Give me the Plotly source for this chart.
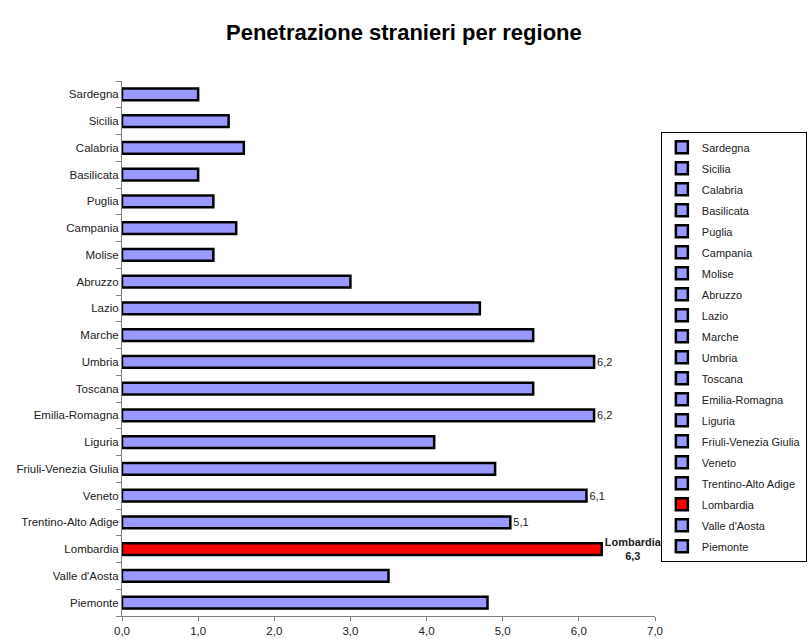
import plotly.graph_objects as go

# Regions listed bottom to top on the chart
regioni = [
    "Piemonte", "Valle d'Aosta", "Lombardia", "Trentino-Alto Adige", "Veneto",
    "Friuli-Venezia Giulia", "Liguria", "Emilia-Romagna", "Toscana", "Umbria",
    "Marche", "Lazio", "Abruzzo", "Molise", "Campania", "Puglia", "Basilicata",
    "Calabria", "Sicilia", "Sardegna",
]
valori = [4.8, 3.5, 6.3, 5.1, 6.1, 4.9, 4.1, 6.2, 5.4, 6.2,
          5.4, 4.7, 3.0, 1.2, 1.5, 1.2, 1.0, 1.6, 1.4, 1.0]
# Regions whose value is printed next to the bar
etichettate = ["Umbria", "Emilia-Romagna", "Veneto", "Trentino-Alto Adige", "Lombardia"]
evidenziata = "Lombardia"

tick_vals = [0, 1, 2, 3, 4, 5, 6, 7]
tick_text = ["0,0", "1,0", "2,0", "3,0", "4,0", "5,0", "6,0", "7,0"]

FONT = "Liberation Sans, Arial, sans-serif"


def fmt(v):
    return f"{v:.1f}".replace(".", ",")


fig = go.Figure()
# Traces are added top to bottom so the legend reads Sardegna ... Piemonte
for nome, v in reversed(list(zip(regioni, valori))):
    if nome == evidenziata:
        colore = "#FF0000"
        testo = f"<b>{nome}<br>{fmt(v)}</b>"
    else:
        colore = "#9999FF"
        testo = fmt(v) if nome in etichettate else ""
    fig.add_trace(go.Bar(
        y=[nome], x=[v], orientation="h", name=nome,
        width=0.44,
        marker=dict(color=colore, line=dict(color="#000000", width=2.5)),
        text=[testo], textposition="outside", cliponaxis=False,
        constraintext="none",
        textfont=dict(family=FONT, size=11, color="#222222"),
        legendgroup=nome,
    ))

fig.update_layout(
    width=811, height=639,
    paper_bgcolor="white", plot_bgcolor="white",
    barmode="overlay",
    margin=dict(l=122, r=156, t=81, b=23, autoexpand=False),
    title=dict(text="<b>Penetrazione stranieri per regione</b>",
               x=0.498, xanchor="center", y=0.95, yanchor="middle",
               font=dict(family=FONT, size=22, color="#000000")),
    font=dict(family=FONT, size=11, color="#222222"),
    xaxis=dict(range=[0, 7], tickvals=tick_vals, ticktext=tick_text,
               showgrid=False, zeroline=False, showline=True,
               linecolor="#7f7f7f", linewidth=1,
               ticks="outside", ticklen=4, tickcolor="#7f7f7f",
               tickfont=dict(size=11.5, color="#222222")),
    yaxis=dict(categoryorder="array", categoryarray=regioni,
               range=[-0.5, len(regioni) - 0.5],
               showgrid=False, showline=True, linecolor="#7f7f7f", linewidth=1,
               ticks="outside", ticklen=5, tickcolor="#7f7f7f",
               tickson="boundaries",
               tickfont=dict(size=11.5, color="#222222")),
    legend=dict(x=1.011, y=0.905, xanchor="left", yanchor="top",
                traceorder="grouped", tracegroupgap=2,
                bordercolor="#000000", borderwidth=1,
                font=dict(family=FONT, size=11, color="#222222"),
                itemwidth=30),
    showlegend=True,
)

fig.write_html("out.html")
